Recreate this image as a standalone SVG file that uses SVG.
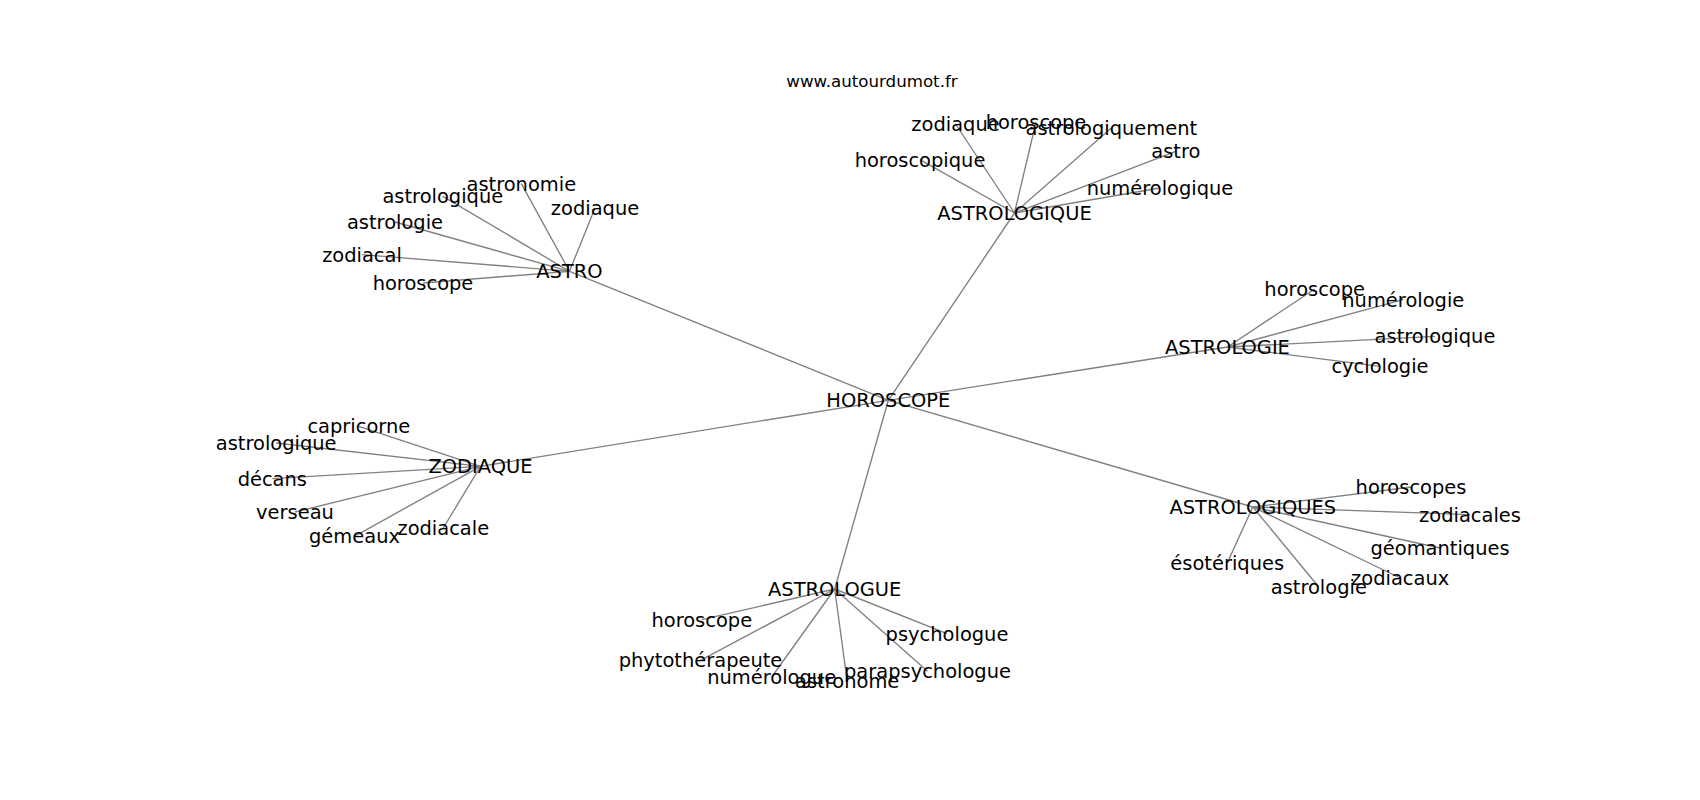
<svg xmlns="http://www.w3.org/2000/svg" width="1700" height="800" viewBox="0 0 1700 800">
<style>
.e{stroke:#808080;stroke-width:1.35;fill:none}
.t{font-family:"DejaVu Sans",sans-serif;font-size:19.44px;fill:#000;text-anchor:middle}
.title{font-family:"DejaVu Sans",sans-serif;font-size:16.67px;fill:#000;text-anchor:middle}
</style>
<rect width="1700" height="800" fill="#fff"/>
<g id="edges">
<line class="e" x1="888.3" y1="400.3" x2="569.5" y2="271.3"/>
<line class="e" x1="888.3" y1="400.3" x2="1014.5" y2="213"/>
<line class="e" x1="888.3" y1="400.3" x2="1227.5" y2="347"/>
<line class="e" x1="888.3" y1="400.3" x2="1252.8" y2="507"/>
<line class="e" x1="888.3" y1="400.3" x2="834.7" y2="589"/>
<line class="e" x1="888.3" y1="400.3" x2="480.5" y2="466.3"/>
<line class="e" x1="569.5" y1="271.3" x2="521.3" y2="183.7"/>
<line class="e" x1="569.5" y1="271.3" x2="442.8" y2="196.3"/>
<line class="e" x1="569.5" y1="271.3" x2="595" y2="208"/>
<line class="e" x1="569.5" y1="271.3" x2="395" y2="222"/>
<line class="e" x1="569.5" y1="271.3" x2="362" y2="254.7"/>
<line class="e" x1="569.5" y1="271.3" x2="423" y2="283"/>
<line class="e" x1="1014.5" y1="213" x2="955.5" y2="124"/>
<line class="e" x1="1014.5" y1="213" x2="1036" y2="122"/>
<line class="e" x1="1014.5" y1="213" x2="1111.3" y2="128"/>
<line class="e" x1="1014.5" y1="213" x2="1175.8" y2="151.3"/>
<line class="e" x1="1014.5" y1="213" x2="920" y2="159.7"/>
<line class="e" x1="1014.5" y1="213" x2="1160" y2="188"/>
<line class="e" x1="1227.5" y1="347" x2="1314.7" y2="289"/>
<line class="e" x1="1227.5" y1="347" x2="1403.3" y2="299.7"/>
<line class="e" x1="1227.5" y1="347" x2="1435" y2="336.3"/>
<line class="e" x1="1227.5" y1="347" x2="1380" y2="366.3"/>
<line class="e" x1="1252.8" y1="507" x2="1411" y2="487"/>
<line class="e" x1="1252.8" y1="507" x2="1470" y2="514.7"/>
<line class="e" x1="1252.8" y1="507" x2="1440" y2="548"/>
<line class="e" x1="1252.8" y1="507" x2="1227.2" y2="563"/>
<line class="e" x1="1252.8" y1="507" x2="1400.2" y2="578"/>
<line class="e" x1="1252.8" y1="507" x2="1318.8" y2="587"/>
<line class="e" x1="834.7" y1="589" x2="701.8" y2="619.7"/>
<line class="e" x1="834.7" y1="589" x2="947" y2="633.7"/>
<line class="e" x1="834.7" y1="589" x2="700.5" y2="660.3"/>
<line class="e" x1="834.7" y1="589" x2="771.7" y2="677"/>
<line class="e" x1="834.7" y1="589" x2="927.5" y2="671.3"/>
<line class="e" x1="834.7" y1="589" x2="847.2" y2="681.3"/>
<line class="e" x1="480.5" y1="466.3" x2="358.8" y2="426.3"/>
<line class="e" x1="480.5" y1="466.3" x2="276.2" y2="443"/>
<line class="e" x1="480.5" y1="466.3" x2="272.3" y2="478.7"/>
<line class="e" x1="480.5" y1="466.3" x2="295" y2="512"/>
<line class="e" x1="480.5" y1="466.3" x2="443.3" y2="528"/>
<line class="e" x1="480.5" y1="466.3" x2="354.5" y2="536.3"/>
</g>
<text class="title" x="872" y="87.3">www.autourdumot.fr</text>
<g id="n-horoscope"><text class="t" x="888.3" y="407.3">HOROSCOPE</text></g>
<g id="n-astro"><text class="t" x="569.5" y="278.3">ASTRO</text></g>
<g id="n-astrologique"><text class="t" x="1014.5" y="220">ASTROLOGIQUE</text></g>
<g id="n-astrologie"><text class="t" x="1227.5" y="354">ASTROLOGIE</text></g>
<g id="n-astrologiques"><text class="t" x="1252.8" y="514">ASTROLOGIQUES</text></g>
<g id="n-astrologue"><text class="t" x="834.7" y="596">ASTROLOGUE</text></g>
<g id="n-zodiaque"><text class="t" x="480.5" y="473.3">ZODIAQUE</text></g>
<g id="astro-leaves">
<text class="t" x="521.3" y="190.7">astronomie</text>
<text class="t" x="442.8" y="203.3">astrologique</text>
<text class="t" x="595" y="215">zodiaque</text>
<text class="t" x="395" y="229">astrologie</text>
<text class="t" x="362" y="261.7">zodiacal</text>
<text class="t" x="423" y="290">horoscope</text>
</g>
<g id="astrologique-leaves">
<text class="t" x="955.5" y="131">zodiaque</text>
<text class="t" x="1036" y="129">horoscope</text>
<text class="t" x="1111.3" y="135">astrologiquement</text>
<text class="t" x="1175.8" y="158.3">astro</text>
<text class="t" x="920" y="166.7">horoscopique</text>
<text class="t" x="1160" y="195">numérologique</text>
</g>
<g id="astrologie-leaves">
<text class="t" x="1314.7" y="296">horoscope</text>
<text class="t" x="1403.3" y="306.7">numérologie</text>
<text class="t" x="1435" y="343.3">astrologique</text>
<text class="t" x="1380" y="373.3">cyclologie</text>
</g>
<g id="astrologiques-leaves">
<text class="t" x="1411" y="494">horoscopes</text>
<text class="t" x="1470" y="521.7">zodiacales</text>
<text class="t" x="1440" y="555">géomantiques</text>
<text class="t" x="1227.2" y="570">ésotériques</text>
<text class="t" x="1400.2" y="585">zodiacaux</text>
<text class="t" x="1318.8" y="594">astrologie</text>
</g>
<g id="astrologue-leaves">
<text class="t" x="701.8" y="626.7">horoscope</text>
<text class="t" x="947" y="640.7">psychologue</text>
<text class="t" x="700.5" y="667.3">phytothérapeute</text>
<text class="t" x="771.7" y="684">numérologue</text>
<text class="t" x="927.5" y="678.3">parapsychologue</text>
<text class="t" x="847.2" y="688.3">astronome</text>
</g>
<g id="zodiaque-leaves">
<text class="t" x="358.8" y="433.3">capricorne</text>
<text class="t" x="276.2" y="450">astrologique</text>
<text class="t" x="272.3" y="485.7">décans</text>
<text class="t" x="295" y="519">verseau</text>
<text class="t" x="443.3" y="535">zodiacale</text>
<text class="t" x="354.5" y="543.3">gémeaux</text>
</g>
</svg>
